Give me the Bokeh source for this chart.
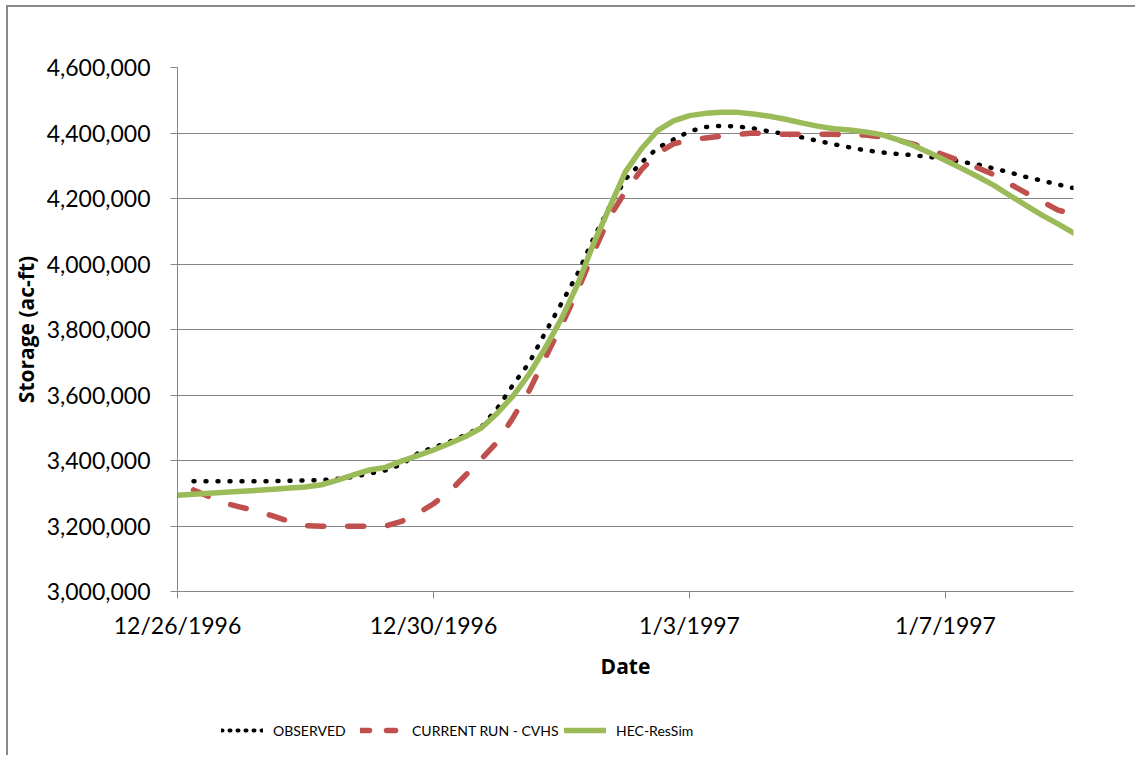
import pandas as pd
from bokeh.plotting import figure
from bokeh.layouts import column
from bokeh.models import (FixedTicker, NumeralTickFormatter, Legend, LegendItem,
                          Range1d)
from bokeh.embed import file_html
from bokeh.resources import INLINE

# ---------------- data ----------------
obs_time = pd.date_range("1996-12-26 06:00", "1997-01-09 00:00", freq="6h")
sim_time = pd.date_range("1996-12-26 00:00", "1997-01-09 00:00", freq="6h")

observed = [3337000, 3337000, 3337000, 3337000, 3337000, 3337000, 3338000, 3339000,
            3340000, 3344000, 3350000, 3360000,
            3370000, 3388000, 3421000, 3440000,
            3457000, 3478000, 3503000, 3560000,
            3633000, 3700000, 3792000, 3880000,
            3970000, 4078000, 4175000, 4259000,
            4310000, 4354000, 4380000, 4405000,
            4418000, 4422000, 4420000, 4414000,
            4405000, 4397000, 4387000, 4376000,
            4366000, 4356000, 4347000, 4341000,
            4336000, 4332000, 4327000, 4321000,
            4312000, 4304000, 4292000, 4280000,
            4266000, 4255000, 4243000, 4232000]

cvhs = [3310000, 3289000, 3269000, 3257000, 3245000, 3230000, 3214000, 3201000,
        3199000, 3199000, 3199000, 3199000,
        3200000, 3214000, 3238000, 3268000,
        3305000, 3355000, 3405000, 3457000,
        3533000, 3615000, 3715000, 3812000,
        3918000, 4035000, 4143000, 4222000,
        4288000, 4338000, 4367000, 4378000,
        4385000, 4390000, 4396000, 4400000,
        4398000, 4396000, 4396000, 4396000,
        4396000, 4395000, 4394000, 4388000,
        4378000, 4366000, 4349000, 4331000,
        4314000, 4294000, 4273000, 4245000,
        4218000, 4192000, 4165000, 4152000]

hec_ressim = [3294000, 3297000, 3300000, 3303000, 3306000, 3309000, 3312000, 3316000, 3319000,
              3326000, 3340000, 3356000, 3371000,
              3379000, 3398000, 3415000, 3432000,
              3452000, 3473000, 3500000, 3545000,
              3599000, 3665000, 3745000, 3833000,
              3937000, 4062000, 4172000, 4282000,
              4352000, 4407000, 4437000, 4453000,
              4460000, 4463000, 4463000, 4458000,
              4451000, 4442000, 4431000, 4421000,
              4413000, 4409000, 4403000, 4395000,
              4380000, 4362000, 4340000, 4316000,
              4292000, 4267000, 4241000, 4210000,
              4180000, 4150000, 4123000, 4095000]

series_names = ["OBSERVED", "CURRENT RUN - CVHS", "HEC-ResSim"]
x_tick_dates = ["1996-12-26", "1996-12-30", "1997-01-03", "1997-01-07"]
x_tick_labels = ["12/26/1996", "12/30/1996", "1/3/1997", "1/7/1997"]
y_ticks = [3000000, 3200000, 3400000, 3600000, 3800000, 4000000, 4200000, 4400000, 4600000]
x_start, x_end = "1996-12-26", "1997-01-09"

W = 1127
BLACK, RED, GREEN = "black", "#C0504D", "#9BBB59"
GRID = "#868686"

# ---------------- main chart ----------------
p = figure(width=W, height=693, x_axis_type="datetime",
           output_backend="svg", toolbar_location=None,
           x_range=Range1d(pd.Timestamp(x_start), pd.Timestamp(x_end)),
           y_range=Range1d(y_ticks[0], y_ticks[-1]),
           min_border_left=165, min_border_right=62,
           min_border_top=60, min_border_bottom=109)
p.outline_line_color = None
p.background_fill_color = "white"
p.border_fill_color = "white"

p.xgrid.visible = False
p.ygrid.grid_line_color = GRID
p.ygrid.grid_line_width = 1

tick_ms = [int(pd.Timestamp(d).value // 10**6) for d in x_tick_dates]
p.xaxis.ticker = FixedTicker(ticks=tick_ms)
p.xaxis.major_label_overrides = {t: l for t, l in zip(tick_ms, x_tick_labels)}
p.yaxis.ticker = FixedTicker(ticks=y_ticks)
p.yaxis.formatter = NumeralTickFormatter(format="0,0")

for ax in p.axis:
    ax.axis_line_color = GRID
    ax.major_tick_line_color = GRID
    ax.major_tick_out = 7
    ax.major_tick_in = 0
    ax.minor_tick_line_color = None
    ax.major_label_text_font = "Lato"
    ax.major_label_text_font_size = "23px"
    ax.major_label_text_color = "black"
    ax.axis_label_text_font = "Open Sans"
    ax.axis_label_text_font_style = "bold"
    ax.axis_label_text_font_size = "21px"
    ax.axis_label_text_color = "black"

p.xaxis.axis_label = "Date"
p.yaxis.axis_label = "Storage (ac-ft)"
p.xaxis.major_label_standoff = 12
p.xaxis.axis_label_standoff = 10
p.yaxis.major_label_standoff = 20
p.yaxis.axis_label_standoff = 4

p.line(obs_time, observed, line_color=BLACK, line_width=4.5, line_dash="1 11",
       line_cap="round", line_join="round")
p.line(obs_time, cvhs, line_color=RED, line_width=5.5, line_dash="16 24",
       line_cap="round", line_join="round")
p.line(sim_time, hec_ressim, line_color=GREEN, line_width=5.5,
       line_cap="round", line_join="round")

# ---------------- legend strip ----------------
q = figure(width=W, height=55, output_backend="svg", toolbar_location=None,
           x_range=Range1d(0, 1), y_range=Range1d(0, 1),
           min_border_left=0, min_border_right=0, min_border_top=0, min_border_bottom=0)
q.axis.visible = False
q.grid.visible = False
q.outline_line_color = None
q.background_fill_color = "white"
q.border_fill_color = "white"

# swatch-only renderers: their points lie outside the strip's visible range
leg_obs = q.line(x=[2, 3], y=[2, 3], line_color=BLACK, line_width=4, line_dash="1 7",
                 line_cap="round")
leg_cvhs = q.line(x=[2, 3], y=[2, 3], line_color=RED, line_width=5.5, line_dash="9 17",
                  line_cap="round")
leg_hec = q.line(x=[2, 3], y=[2, 3], line_color=GREEN, line_width=5.5, line_cap="round")

for name, rend, xloc in zip(series_names, [leg_obs, leg_cvhs, leg_hec], [44, 183, 387]):
    lg = Legend(items=[LegendItem(label=name, renderers=[rend])],
                location=(xloc, 15), orientation="horizontal",
                glyph_width=42, glyph_height=20, label_standoff=10,
                padding=0, margin=0, spacing=0,
                border_line_alpha=0, background_fill_alpha=0,
                label_text_font="Lato", label_text_font_size="14px",
                label_text_color="black")
    q.add_layout(lg)

layout = column(p, q, spacing=0)
layout.styles = {"border-left": "2px solid #898989", "border-top": "2px solid #898989",
                 "margin-left": "6px", "margin-top": "5px"}

open("out.html", "w").write(file_html(layout, INLINE))
